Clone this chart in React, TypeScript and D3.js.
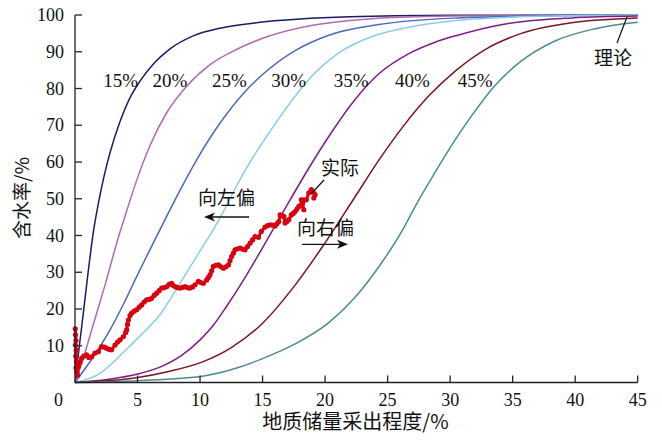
import * as d3 from "d3";

type Pt = [number, number];

// theoretical curves: recovery degree (%) vs water cut (%)
const curve15: Pt[] = [[0, 0], [0.35, 10], [0.67, 19], [1.05, 30], [1.47, 41], [1.94, 50], [2.35, 56.5], [2.8, 62.5], [3.6, 71], [4.4, 77.5], [5.2, 82], [6.3, 86.8], [7.6, 90.8], [9.5, 94.4], [11.6, 96.4], [14.5, 97.9], [18, 98.9], [22, 99.5], [30, 99.9], [45, 100]];
const curve20: Pt[] = [[0, 0], [0.7, 7], [1.35, 14.5], [2.4, 26.5], [3.47, 39.5], [4.35, 49], [4.93, 55], [6, 64.5], [7.33, 73.4], [8.93, 80.6], [10.8, 86.5], [12.9, 90.6], [15.3, 94], [19, 97.2], [23, 98.8], [30, 99.7], [45, 100]];
const curve25: Pt[] = [[0, 0], [1.47, 7], [2.8, 14.3], [3.9, 21.5], [4.93, 28.8], [6.8, 41.6], [8, 49.7], [9.73, 60.6], [11.6, 70.6], [13.5, 78.8], [15, 83.8], [17.6, 90.3], [20.3, 94.5], [24.3, 97.4], [30.6, 99.2], [38, 99.8], [45, 100]];
const curve30: Pt[] = [[0, 0], [2, 2.5], [4.1, 9], [5, 12], [6.8, 18.5], [8.4, 27], [10, 35.8], [11.06, 41.6], [11.9, 46.7], [12.9, 53.4], [14, 60], [15.3, 66.8], [16.3, 71.8], [17.6, 77.9], [19.2, 84.3], [21.1, 89.7], [23.8, 94.2], [27, 96.9], [30.5, 98.5], [35.6, 99.5], [45, 100]];
const curve35: Pt[] = [[0, 0], [3, 1], [5, 2.3], [6.8, 4.2], [8.5, 7.3], [10, 11.6], [11, 15.3], [12.1, 20.6], [13.5, 28], [14.8, 35.5], [16, 42.6], [17.2, 49.7], [19, 60], [20.6, 68.5], [22.4, 77], [24.3, 84], [26.7, 89.5], [28.8, 92.6], [30.6, 94.5], [34.3, 97.5], [39.7, 99.2], [45, 99.7]];
const curve40: Pt[] = [[0, 0], [4.9, 1.3], [7.5, 3], [10.2, 5.6], [12.5, 9.5], [14.9, 15.8], [17.6, 26.5], [19.8, 37], [22.3, 50], [24.3, 60.5], [26.2, 69.5], [28.3, 78], [30.5, 85], [33, 91], [35.7, 95], [39.7, 97.9], [45, 99.2]];
const curve45: Pt[] = [[0, 0], [5, 0.5], [10.3, 1.8], [13, 4], [15, 6.5], [17.6, 10.5], [20.3, 16.3], [22.4, 23.2], [24.3, 31.5], [26.2, 41.5], [27.3, 48.5], [28.5, 55.5], [30.4, 66], [31.7, 72.5], [33.5, 80.5], [35.7, 87.5], [38.3, 92.8], [41.5, 96.2], [45, 98]];

const curveNames = ["15%", "20%", "25%", "30%", "35%", "40%", "45%"];
const curveColors = ["#1c1a64", "#b46aae", "#4a68bf", "#8ccbe8", "#7a1e8a", "#7a1622", "#4a8c93"];
const curves = [curve15, curve20, curve25, curve30, curve35, curve40, curve45];

// actual field data
const actualRecovery = [0.02, 0.04, 0.08, 0.03, 0.1, 0.06, 0.12, 0.08, 0.15, 0.2, 0.27, 0.4, 0.53, 0.7, 0.93, 1.1, 1.33, 1.6, 1.87, 2.13, 2.35, 2.53, 2.75, 2.93, 3.2, 3.4, 3.6, 3.87, 4.05, 4.13, 4.2, 4.27, 4.4, 4.53, 4.73, 4.93, 5.13, 5.33, 5.53, 5.73, 5.93, 6.13, 6.33, 6.53, 6.73, 6.93, 7.13, 7.33, 7.53, 7.73, 7.87, 8.0, 8.2, 8.4, 8.6, 8.8, 9.0, 9.2, 9.4, 9.6, 9.87, 10.07, 10.27, 10.53, 10.67, 10.8, 10.93, 11.07, 11.27, 11.47, 11.67, 11.87, 12.07, 12.27, 12.4, 12.53, 12.67, 12.8, 13.0, 13.2, 13.4, 13.6, 13.8, 14.0, 14.2, 14.4, 14.67, 14.9, 15.2, 15.4, 15.6, 15.8, 16.0, 16.15, 16.3, 16.4, 16.55, 16.7, 16.8, 16.95, 17.1, 17.3, 17.45, 17.6, 17.75, 17.9, 18.1, 18.3, 18.2, 18.1, 18.3, 18.5, 18.7, 18.9, 19.05, 19.2, 19.1];
const actualWaterCut = [14.6, 13.0, 11.4, 10.2, 8.8, 7.2, 5.6, 4.0, 2.8, 2.0, 4.3, 5.5, 6.6, 7.2, 7.5, 6.8, 7.0, 8.0, 8.4, 9.8, 9.6, 9.3, 9.0, 8.9, 10.2, 11.0, 11.6, 12.5, 13.6, 14.3, 15.8, 17.0, 18.2, 18.9, 19.4, 19.8, 20.5, 21.1, 21.9, 22.5, 22.6, 22.9, 23.7, 24.3, 25.0, 25.7, 25.8, 26.1, 26.7, 27.0, 26.4, 26.1, 25.8, 25.7, 25.9, 26.1, 25.8, 25.7, 26.0, 26.6, 27.5, 27.2, 27.0, 27.9, 28.6, 29.3, 30.4, 31.6, 31.9, 32.0, 31.5, 31.1, 31.5, 32.0, 33.2, 34.3, 35.2, 36.1, 36.4, 36.6, 36.3, 36.1, 37.0, 37.9, 38.8, 39.7, 39.5, 41.1, 42.3, 42.7, 42.9, 42.8, 42.6, 43.2, 43.8, 45.6, 45.4, 45.2, 43.4, 43.8, 44.3, 45.6, 46.0, 46.5, 47.2, 47.9, 48.4, 47.0, 48.8, 49.7, 49.7, 49.7, 51.6, 52.5, 51.8, 51.1, 50.2];

const xTicks = [0, 5, 10, 15, 20, 25, 30, 35, 40, 45];
const yTicks = [10, 20, 30, 40, 50, 60, 70, 80, 90, 100];
const labelRecovery = [2.25, 6.2, 10.95, 15.7, 20.7, 25.6, 30.6];

const serif = "'Liberation Serif', 'Times New Roman', 'Noto Sans CJK SC', serif";
const cjk = "'Noto Sans CJK SC', 'Liberation Serif', sans-serif";

export default function App() {
  const width = 662;
  const height = 441;
  const x = d3.scaleLinear().domain([0, 45]).range([75, 637.7]);
  const y = d3.scaleLinear().domain([0, 100]).range([382.5, 15]);
  const line = d3
    .line<Pt>()
    .x((d) => x(d[0]))
    .y((d) => y(d[1]))
    .curve(d3.curveMonotoneX);
  const actual: Pt[] = actualRecovery.map((r, i) => [r, actualWaterCut[i]]);
  const actualLine = d3
    .line<Pt>()
    .x((d) => x(d[0]))
    .y((d) => y(d[1]));
  const axisColor = "#222";

  return (
    <svg
      width={width}
      height={height}
      viewBox={`0 0 ${width} ${height}`}
      style={{ position: "absolute", left: 0, top: 0, background: "#fff" }}
    >
      {curves.map((c, i) => (
        <path key={curveNames[i]} d={line(c) ?? ""} fill="none" stroke={curveColors[i]} strokeWidth={1.5} />
      ))}

      {/* actual data */}
      <path d={actualLine(actual) ?? ""} fill="none" stroke="#d9000f" strokeWidth={3} strokeLinejoin="round" />
      {actual.map((d, i) => (
        <circle key={i} cx={x(d[0])} cy={y(d[1])} r={2.6} fill="#d9000f" />
      ))}

      {/* axes */}
      <line x1={x(0)} x2={x(0)} y1={y(0)} y2={y(100)} stroke={axisColor} strokeWidth={1.3} />
      <line x1={x(0)} x2={x(45)} y1={y(0)} y2={y(0)} stroke={axisColor} strokeWidth={1.3} />
      {yTicks.map((t) => (
        <g key={t}>
          <line x1={x(0)} x2={x(0) + 7} y1={y(t)} y2={y(t)} stroke={axisColor} strokeWidth={1.3} />
          <text x={x(0) - 11} y={y(t) + 6} textAnchor="end" fontSize={18} fontFamily={serif} fill="#111">
            {t}
          </text>
        </g>
      ))}
      {xTicks.map((t) => (
        <g key={t}>
          {t > 0 && <line x1={x(t)} x2={x(t)} y1={y(0)} y2={y(0) - 7} stroke={axisColor} strokeWidth={1.3} />}
          <text
            x={t === 0 ? x(0) - 16.5 : x(t)}
            y={406}
            textAnchor="middle"
            fontSize={18}
            fontFamily={serif}
            fill="#111"
          >
            {t}
          </text>
        </g>
      ))}

      {/* axis titles */}
      <text x={355.5} y={429} textAnchor="middle" fontSize={20} fontFamily={cjk} fill="#111">
        地质储量采出程度/%
      </text>
      <text
        transform="translate(29, 198) rotate(-90)"
        textAnchor="middle"
        fontSize={19}
        fontFamily={cjk}
        fill="#111"
      >
        含水率/%
      </text>

      {/* curve labels */}
      {curveNames.map((name, i) => (
        <text key={name} x={x(labelRecovery[i])} y={87} fontSize={19} fontFamily={serif} fill="#111">
          {name}
        </text>
      ))}

      {/* annotations */}
      <text x={594} y={65} fontSize={19} fontFamily={cjk} fill="#111">理论</text>
      <line x1={627} y1={17} x2={617} y2={43} stroke="#111" strokeWidth={1.2} />
      <text x={321} y={175} fontSize={19} fontFamily={cjk} fill="#111">实际</text>
      <line x1={324} y1={180} x2={311} y2={194} stroke="#111" strokeWidth={1.2} />

      <text x={198} y={205} fontSize={19} fontFamily={cjk} fill="#111">向左偏</text>
      <line x1={249} y1={217} x2={212} y2={217} stroke="#111" strokeWidth={1.3} />
      <path d="M204,217 L215,212.5 L212,217 L215,221.5 Z" fill="#111" />

      <text x={297} y={235} fontSize={19} fontFamily={cjk} fill="#111">向右偏</text>
      <line x1={302} y1={244.3} x2={340} y2={244.3} stroke="#111" strokeWidth={1.3} />
      <path d="M348,244.3 L337,239.8 L340,244.3 L337,248.8 Z" fill="#111" />
    </svg>
  );
}
